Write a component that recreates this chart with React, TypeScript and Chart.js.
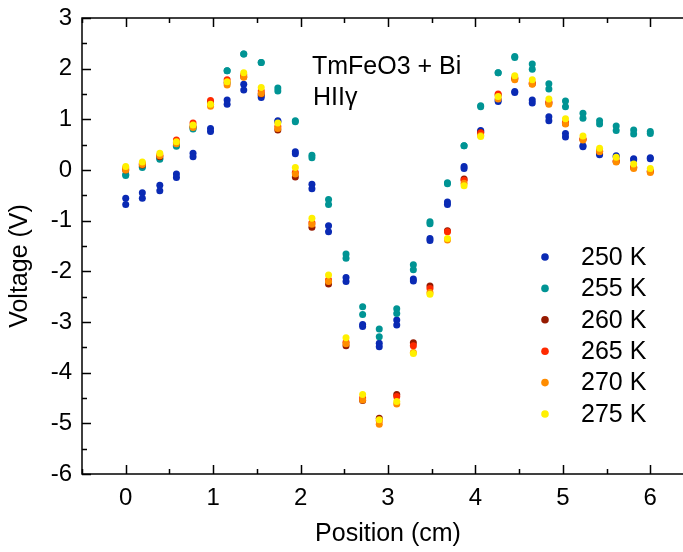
import React, { useEffect, useRef } from 'react';
import { Chart, registerables } from 'chart.js';

Chart.register(...registerables);

// Probe positions along the sample (cm)
const positions = [
  0, 0.19, 0.39, 0.58, 0.77, 0.97, 1.16, 1.35, 1.55, 1.74, 1.94, 2.13, 2.32, 2.52, 2.71, 2.9,
  3.1, 3.29, 3.48, 3.68, 3.87, 4.06, 4.26, 4.45, 4.65, 4.84, 5.03, 5.23, 5.42, 5.61, 5.81, 6.0,
];

// Voltage readings (V); two sweeps for the colder runs
const v250a = [
  -0.56, -0.45, -0.3, -0.08, 0.33, 0.82, 1.38, 1.69, 1.47, 0.97, 0.36, -0.28, -1.1, -2.12, -3.05, -3.42,
  -2.96, -2.15, -1.35, -0.63, 0.07, 0.78, 1.35, 1.53, 1.38, 1.05, 0.72, 0.46, 0.32, 0.28, 0.22, 0.24,
];
const v250b = [
  -0.68, -0.56, -0.41, -0.15, 0.26, 0.76, 1.3, 1.58, 1.43, 0.95, 0.32, -0.37, -1.22, -2.2, -3.09, -3.49,
  -3.06, -2.19, -1.39, -0.68, 0.03, 0.76, 1.38, 1.55, 1.32, 0.97, 0.65, 0.48, 0.3, 0.26, 0.2, 0.22,
];
const v255a = [
  -0.11, 0.05, 0.21, 0.47, 0.81, 1.3, 1.96, 2.29, 2.12, 1.62, 0.95, 0.29, -0.58, -1.66, -2.7, -3.14,
  -2.74, -1.87, -1.02, -0.25, 0.48, 1.25, 1.92, 2.22, 2.09, 1.7, 1.36, 1.12, 0.97, 0.87, 0.79, 0.76,
];
const v255b = [
  -0.09, 0.07, 0.23, 0.49, 0.83, 1.32, 1.96, 2.29, 2.12, 1.56, 0.97, 0.24, -0.68, -1.74, -2.85, -3.29,
  -2.83, -1.97, -1.06, -0.27, 0.48, 1.27, 1.92, 2.24, 1.99, 1.6, 1.25, 1.02, 0.91, 0.78, 0.71, 0.72,
];
const v260 = [
  0.0, 0.1, 0.26, 0.54, 0.86, 1.32, 1.72, 1.84, 1.5, 0.79, -0.14, -1.13, -2.25, -3.47, -4.55, -4.9,
  -4.43, -3.41, -2.29, -1.2, -0.18, 0.74, 1.48, 1.8, 1.7, 1.32, 0.92, 0.6, 0.37, 0.17, 0.05, -0.03,
];
const v265 = [
  0.04, 0.13, 0.29, 0.59, 0.93, 1.37, 1.78, 1.88, 1.56, 0.86, -0.05, -1.04, -2.17, -3.4, -4.5, -4.95,
  -4.47, -3.47, -2.34, -1.22, -0.2, 0.73, 1.5, 1.82, 1.72, 1.34, 0.94, 0.61, 0.38, 0.18, 0.06, -0.02,
];
const v270 = [
  0.0, 0.11, 0.28, 0.52, 0.84, 1.26, 1.68, 1.83, 1.51, 0.82, -0.08, -1.07, -2.2, -3.43, -4.54, -5.02,
  -4.62, -3.6, -2.42, -1.38, -0.26, 0.68, 1.4, 1.78, 1.69, 1.3, 0.91, 0.59, 0.36, 0.16, 0.03, -0.05,
];
const v275 = [
  0.07, 0.16, 0.33, 0.56, 0.89, 1.3, 1.74, 1.92, 1.63, 0.93, 0.05, -0.95, -2.07, -3.31, -4.43, -4.93,
  -4.57, -3.62, -2.45, -1.35, -0.31, 0.66, 1.45, 1.86, 1.78, 1.4, 1.01, 0.67, 0.43, 0.25, 0.12, 0.03,
];

const seriesLabels = ['250 K', '255 K', '260 K', '265 K', '270 K', '275 K'];
const seriesColors = ['#0a2ab4', '#009494', '#961a00', '#ff2a00', '#ff8c00', '#fff000'];
const seriesRuns = [[v250a, v250b], [v255a, v255b], [v260], [v265], [v270], [v275]];

const xTickValues = [0, 1, 2, 3, 4, 5, 6];
const yTickValues = [-6, -5, -4, -3, -2, -1, 0, 1, 2, 3];
const noteLines = ['TmFeO3 + Bi', 'HIIγ'];
const yTitle = 'Voltage (V)';

const FONT = '"Liberation Sans", Arial, Helvetica, sans-serif';

const framePlugin = {
  id: 'frameAndNotes',
  beforeDatasetsDraw(chart: any) {
    const { ctx, chartArea: a, scales } = chart;
    const xs = scales.x;
    const ys = scales.y;
    const major = 9;
    const minor = 5;
    ctx.save();
    ctx.strokeStyle = '#000';
    ctx.lineWidth = 1.5;
    ctx.strokeRect(a.left, a.top, a.right - a.left, a.bottom - a.top);
    ctx.beginPath();
    const xStep = xTickValues[1] - xTickValues[0];
    for (let v = xs.min; v <= xs.max + 1e-9; v += xStep / 2) {
      const px = Math.round(xs.getPixelForValue(v)) + 0.5;
      const isMajor = xTickValues.some((t) => Math.abs(t - v) < 1e-6);
      const len = isMajor ? major : minor;
      ctx.moveTo(px, a.bottom);
      ctx.lineTo(px, a.bottom - len);
      ctx.moveTo(px, a.top);
      ctx.lineTo(px, a.top + len);
    }
    const yStep = yTickValues[1] - yTickValues[0];
    for (let v = ys.min; v <= ys.max + 1e-9; v += yStep / 2) {
      const py = Math.round(ys.getPixelForValue(v)) + 0.5;
      const isMajor = yTickValues.some((t) => Math.abs(t - v) < 1e-6);
      const len = isMajor ? major : minor;
      ctx.moveTo(a.left, py);
      ctx.lineTo(a.left + len, py);
      ctx.moveTo(a.right, py);
      ctx.lineTo(a.right - len, py);
    }
    ctx.stroke();
    ctx.restore();
  },
  afterDraw(chart: any) {
    const { ctx } = chart;
    ctx.save();
    ctx.fillStyle = '#000';
    ctx.font = `25px ${FONT}`;
    ctx.textAlign = 'left';
    ctx.textBaseline = 'alphabetic';
    ctx.fillText(noteLines[0], 312, 74);
    ctx.fillText(noteLines[1], 313, 105);

    // vertical axis title
    ctx.save();
    ctx.translate(20, 266);
    ctx.rotate(-Math.PI / 2);
    ctx.textAlign = 'center';
    ctx.textBaseline = 'middle';
    ctx.fillText(yTitle, 0, 0);
    ctx.restore();

    // legend
    const rowGap = 31.4;
    seriesLabels.forEach((label, i) => {
      const cy = 257 + i * rowGap;
      ctx.beginPath();
      ctx.fillStyle = seriesColors[i];
      ctx.arc(545, cy, 3.8, 0, Math.PI * 2);
      ctx.fill();
      ctx.fillStyle = '#000';
      ctx.textAlign = 'left';
      ctx.textBaseline = 'middle';
      ctx.fillText(label, 581, cy + 1);
    });
    ctx.restore();
  },
};

export default function App() {
  const canvasRef = useRef<HTMLCanvasElement | null>(null);

  useEffect(() => {
    const canvas = canvasRef.current;
    if (!canvas) return;
    const datasets = seriesLabels.map((label, i) => ({
      label,
      data: seriesRuns[i].flatMap((run) => run.map((v, k) => ({ x: positions[k], y: v }))),
      backgroundColor: seriesColors[i],
      borderColor: seriesColors[i],
      borderWidth: 0,
      pointRadius: 3.5,
      pointHoverRadius: 3.5,
      showLine: false,
      order: seriesLabels.length - 1 - i,
    }));

    const chart = new Chart(canvas, {
      type: 'scatter',
      data: { datasets },
      plugins: [framePlugin],
      options: {
        animation: false,
        responsive: false,
        maintainAspectRatio: false,
        devicePixelRatio: 1,
        layout: { padding: { top: 18, right: 6, left: 0, bottom: 0 } },
        plugins: {
          legend: { display: false },
          tooltip: { enabled: false },
        },
        scales: {
          x: {
            type: 'linear',
            min: -0.5,
            max: 6.5,
            grid: { display: false, drawTicks: false },
            border: { display: false },
            afterBuildTicks: (scale: any) => {
              scale.ticks = xTickValues.map((v) => ({ value: v }));
            },
            afterFit: (scale: any) => {
              scale.height = 78;
              scale.paddingLeft = 0;
              scale.paddingRight = 0;
            },
            ticks: {
              color: '#000',
              padding: 10,
              maxRotation: 0,
              font: { family: FONT, size: 24 },
              callback: (v: any) => String(v),
            },
            title: {
              display: true,
              text: 'Position (cm)',
              color: '#000',
              font: { family: FONT, size: 25 },
              padding: { top: 0, bottom: 3 },
            },
          },
          y: {
            type: 'linear',
            min: -6,
            max: 3,
            grid: { display: false, drawTicks: false },
            border: { display: false },
            afterBuildTicks: (scale: any) => {
              scale.ticks = yTickValues.map((v) => ({ value: v }));
            },
            afterFit: (scale: any) => {
              scale.width = 82;
              scale.paddingTop = 0;
              scale.paddingBottom = 0;
            },
            ticks: {
              color: '#000',
              padding: 10,
              font: { family: FONT, size: 24 },
              callback: (v: any) => String(v),
            },
            title: { display: false },
          },
        },
      },
    });
    return () => chart.destroy();
  }, []);

  return (
    <div
      style={{
        position: 'fixed',
        left: 0,
        top: 0,
        width: 683,
        height: 552,
        overflow: 'hidden',
        background: '#fff',
      }}
    >
      <canvas ref={canvasRef} width={700} height={552} style={{ display: 'block' }} />
    </div>
  );
}
